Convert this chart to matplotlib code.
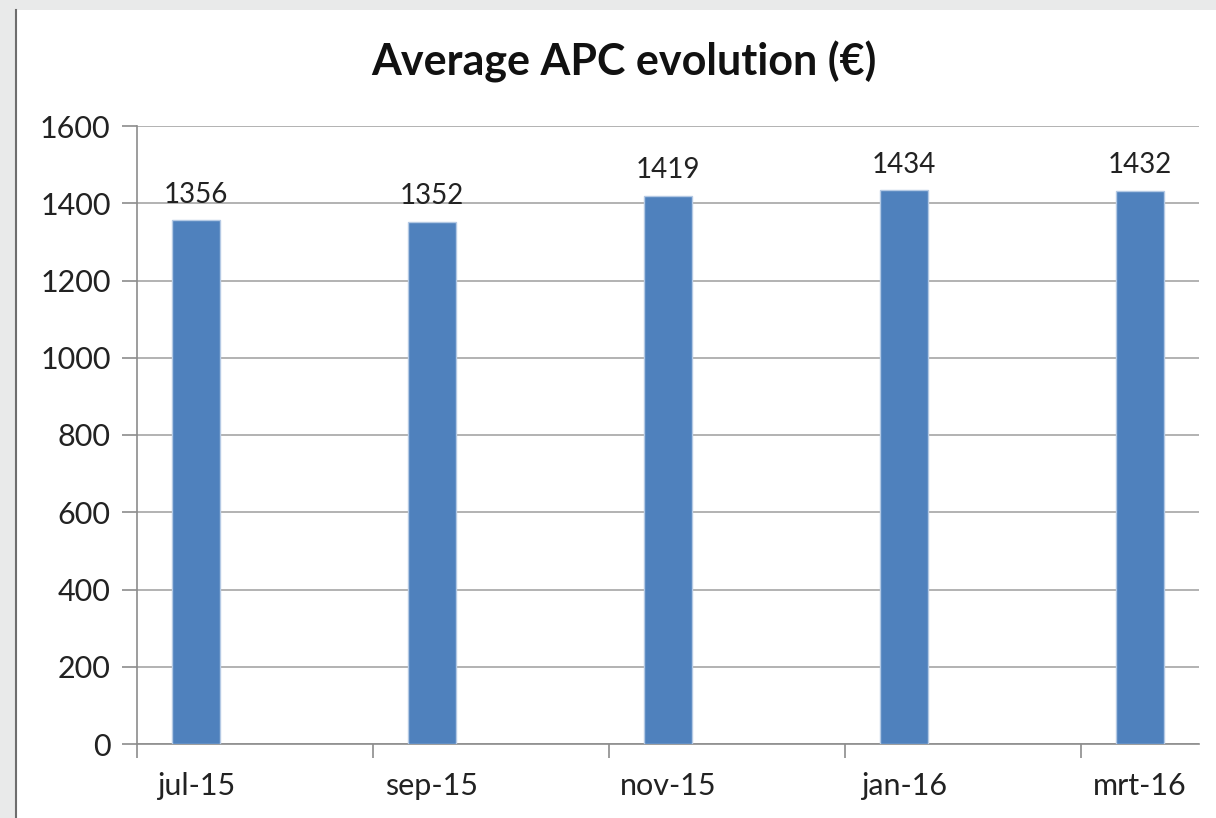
import numpy as np
import matplotlib.pyplot as plt
from matplotlib.patches import Rectangle

months = ["jul-15", "sep-15", "nov-15", "jan-16", "mrt-16"]
apc = [1356, 1352, 1419, 1434, 1432]
yticks = [0, 200, 400, 600, 800, 1000, 1200, 1400, 1600]

plt.rcParams["font.family"] = ["Lato", "DejaVu Sans"]

fig = plt.figure(figsize=(12.16, 8.18), dpi=100)
fig.patch.set_facecolor("#e9eaea")
# white slide area with a thin dark edge on the left
fig.add_artist(Rectangle((16 / 1216, 0), 1 - 16 / 1216, 1 - 10 / 818,
                         transform=fig.transFigure, facecolor="white",
                         edgecolor="none", zorder=-5))
fig.add_artist(plt.Line2D([15.5 / 1216, 15.5 / 1216], [0, 1 - 10 / 818],
                          transform=fig.transFigure, color="#6e6e6e", lw=1.5,
                          zorder=-4))

ax = fig.add_axes([137 / 1216, 74 / 818, 1062 / 1216, 618 / 818])
ax.set_facecolor("none")
ax.set_zorder(2)

x = np.arange(len(months))
ax.bar(x, apc, width=0.2, color="#4f81bd", edgecolor="#b4c9e4", linewidth=1,
       zorder=3)

for xi, v in zip(x, apc):
    ax.annotate(f"{v}", (xi, v), xytext=(0, 9), textcoords="offset points",
                ha="center", va="bottom", fontsize=20, color="#222222")

ax.set_xlim(-0.25, 4.25)
ax.set_ylim(0, 1600)
ax.set_yticks(yticks)
ax.set_xticks(x, labels=months)
ax.set_xticks(np.arange(len(months)) - 0.25, minor=True)
ax.tick_params(axis="x", which="major", length=0, pad=20, labelsize=22,
               labelcolor="#222222")
ax.tick_params(axis="x", which="minor", length=10, color="#8c8c8c", width=1.2)
ax.tick_params(axis="y", length=11, color="#8c8c8c", width=1.2, pad=8,
               labelsize=22, labelcolor="#222222")

ax.grid(axis="y", color="#a6a6a6", lw=1.2, zorder=0)
for side in ["top", "right"]:
    ax.spines[side].set_visible(False)
for side in ["left", "bottom"]:
    ax.spines[side].set_color("#8c8c8c")
    ax.spines[side].set_linewidth(1.2)

fig.text(624 / 1216, 1 - 62 / 818, "Average APC evolution (€)", ha="center",
         va="center", fontsize=31, fontweight="bold", color="#111111")

fig.savefig("out.png", dpi=100, facecolor=fig.get_facecolor())
